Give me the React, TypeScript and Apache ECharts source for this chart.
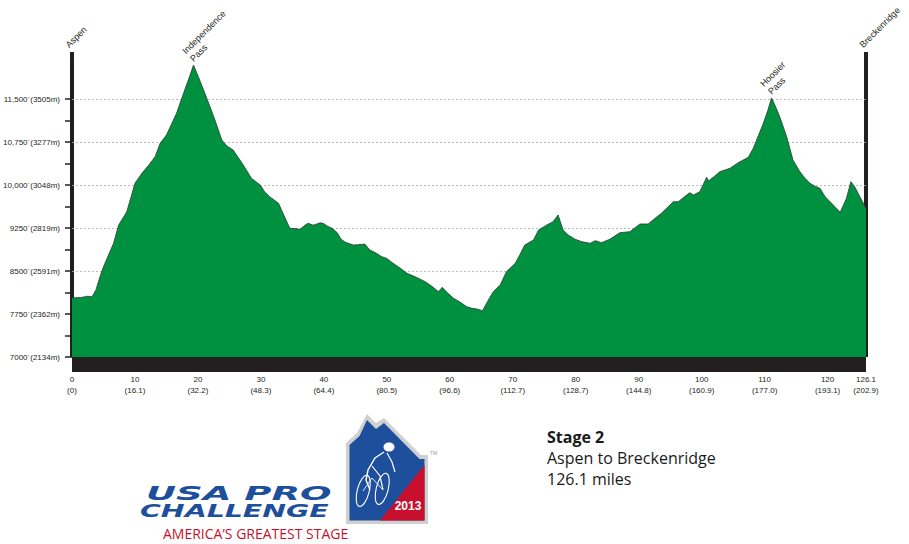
import React, { useEffect, useRef } from 'react';
import * as echarts from 'echarts';

// ---- elevation profile (miles, feet) ----
const mileMarks = [
  0, 1.5, 2.5, 3.2, 3.8, 4.5, 5.0, 5.8, 6.6, 7.4, 8.7, 9.4, 10.0, 11.1, 12.2, 13.2, 14.0, 15.0, 15.8, 16.6,
  17.9, 18.7, 19.3, 20.1, 20.9, 21.8, 22.7, 23.8, 24.6, 25.6, 26.4, 27.2, 28.5, 29.9, 30.6, 31.4, 32.8, 33.7,
  34.6, 35.4, 36.2, 37.0, 37.5, 38.3, 38.9, 39.4, 39.9, 40.6, 41.3, 42.1, 42.7, 43.4, 44.7, 45.5, 46.5, 47.3,
  48.2, 49.2, 50.0, 51.0, 52.0, 53.2, 54.5, 56.1, 57.2, 58.2, 58.8, 59.7, 60.6, 61.6, 62.7, 63.5, 64.3, 65.2,
  66.0, 66.9, 68.0, 69.0, 70.4, 71.2, 71.9, 73.3, 74.1, 75.4, 76.4, 77.2, 78.0, 78.8, 79.9, 81.0, 82.3, 83.1,
  84.1, 85.4, 87.0, 88.6, 90.2, 91.5, 92.5, 93.6, 95.5, 96.3, 97.2, 98.1, 98.7, 99.7, 100.8, 101.1, 102.0,
  102.9, 104.5, 105.8, 107.4, 108.2, 109.0, 109.8, 110.5, 111.1, 111.8, 112.4, 113.5, 114.5, 115.6, 116.4,
  117.2, 118.0, 118.8, 119.6, 120.3, 120.9, 122.0, 123.0, 123.7, 124.3, 125.4, 126.1,
];
const elevFeet = [
  8030, 8040, 8060, 8050, 8170, 8420, 8575, 8780, 8983, 9300, 9535, 9800, 10029, 10204, 10350, 10494, 10727, 10872, 11060, 11250,
  11657, 11900, 12093, 11880, 11657, 11400, 11134, 10785, 10680, 10610, 10480, 10349, 10116, 10000, 9880, 9796, 9680, 9460,
  9245, 9240, 9227, 9300, 9332, 9300, 9320, 9340, 9332, 9280, 9245, 9170, 9060, 9000, 8953, 8960, 8970, 8866,
  8820, 8750, 8720, 8634, 8560, 8460, 8400, 8314, 8230, 8139, 8215, 8110, 8024, 7960, 7878, 7850, 7837, 7808,
  7970, 8139, 8256, 8488, 8634, 8800, 8953, 9041, 9215, 9302, 9360, 9477, 9215, 9128, 9053, 9010, 8983, 9029,
  8994, 9053, 9168, 9186, 9320, 9320, 9410, 9506, 9709, 9709, 9790, 9866, 9826, 9883, 10134, 10070, 10150,
  10233, 10291, 10389, 10483, 10640, 10860, 11076, 11300, 11520, 11350, 11191, 10843, 10436, 10233, 10120,
  10029, 9980, 9942, 9796, 9720, 9651, 9524, 9768, 10058, 9971, 9738, 9593,
];

// ---- axis ticks ----
const xTickMiles = [0, 10, 20, 30, 40, 50, 60, 70, 80, 90, 100, 110, 120, 126.1];
const xTickKm = ['0', '16.1', '32.2', '48.3', '64.4', '80.5', '96.6', '112.7', '128.7', '144.8', '160.9', '177.0', '193.1', '202.9'];
const yTickFeet = [7000, 7750, 8500, 9250, 10000, 10750, 11500];
const yTickFeetText = ['7000', '7750', '8500', '9250', '10,000', '10,750', '11,500'];
const yTickMeters = [2134, 2362, 2591, 2819, 3048, 3277, 3505];
const Y_MIN = 7000;
const Y_MAX = 12320;
const X_MAX = 126.1;

// ---- place names ----
const placeLabels = ['Aspen', 'Independence\nPass', 'Hoosier\nPass', 'Breckenridge'];
const placeMiles = [0, 19.3, 111.1, 126.1];
const placeFeet = [Y_MAX, 12093, 11520, Y_MAX];

const INK = '#231f20';
const AXIS_FONT = '"Liberation Sans", Arial, Helvetica, sans-serif';

function logoGraphics(): any[] {
  const blue = '#1d4f9c';
  const red = '#c8102e';
  return [
    {
      type: 'polygon',
      shape: { points: [[346, 524], [346, 443], [357, 433], [367, 414], [376, 423], [384, 418], [421, 455], [428, 455], [428, 524]] },
      style: { fill: '#d0d0d0' },
    },
    {
      type: 'polygon',
      shape: { points: [[349.5, 520.5], [349.5, 445], [359.5, 436], [367, 420], [376, 429], [384, 423], [419.5, 459], [424.5, 459], [424.5, 520.5]] },
      style: { fill: blue },
    },
    {
      type: 'polygon',
      shape: { points: [[380, 520.5], [424.5, 465], [424.5, 520.5]] },
      style: { fill: red },
    },
    // cyclist (simplified white strokes)
    { type: 'ellipse', shape: { cx: 363, cy: 491, rx: 6, ry: 16 }, rotation: -0.25, originX: 363, originY: 491, style: { fill: 'none', stroke: '#fff', lineWidth: 1.1 } },
    { type: 'ellipse', shape: { cx: 382, cy: 489, rx: 6, ry: 16 }, rotation: -0.25, originX: 382, originY: 489, style: { fill: 'none', stroke: '#fff', lineWidth: 1.1 } },
    { type: 'ellipse', shape: { cx: 389, cy: 447, rx: 5.5, ry: 4.5 }, style: { fill: '#fff' } },
    { type: 'polyline', shape: { points: [[384, 452], [375, 458], [368, 470], [366, 480], [370, 490]] }, style: { stroke: '#fff', lineWidth: 1.4, fill: 'none' } },
    { type: 'polyline', shape: { points: [[387, 453], [392, 462], [395, 472]] }, style: { stroke: '#fff', lineWidth: 1.2, fill: 'none' } },
    { type: 'polyline', shape: { points: [[372, 466], [380, 476], [383, 490]] }, style: { stroke: '#fff', lineWidth: 1.2, fill: 'none' } },
    { type: 'polyline', shape: { points: [[363, 491], [372, 478], [382, 489]] }, style: { stroke: '#fff', lineWidth: 0.9, fill: 'none' } },
    {
      type: 'text', x: 408, y: 506,
      style: { text: '2013', font: 'bold 12px "Liberation Sans", Arial, sans-serif', fill: '#fff', textAlign: 'center', textVerticalAlign: 'middle' },
    },
    {
      type: 'text', x: 430, y: 453,
      style: { text: 'TM', font: '5px "Liberation Sans", Arial, sans-serif', fill: '#999', textAlign: 'left', textVerticalAlign: 'middle' },
    },
    {
      type: 'text', x: 146, y: 493.5, scaleX: 1.95,
      style: { text: 'USA PRO', font: 'italic bold 19px "DejaVu Sans", sans-serif', fill: blue, textAlign: 'left', textVerticalAlign: 'middle' },
    },
    {
      type: 'text', x: 140, y: 511, scaleX: 1.58,
      style: { text: 'CHALLENGE', font: 'italic bold 18px "DejaVu Sans", sans-serif', fill: blue, textAlign: 'left', textVerticalAlign: 'middle' },
    },
    {
      type: 'text', x: 163, y: 533, scaleX: 1.0,
      style: { text: 'AMERICA\u2019S GREATEST STAGE', font: '14px "Open Sans", sans-serif', fill: red, textAlign: 'left', textVerticalAlign: 'middle' },
    },
  ];
}

function stageGraphics(): any[] {
  const base = { textAlign: 'left', textVerticalAlign: 'middle', fill: '#1a1a1a' };
  return [
    { type: 'text', x: 547, y: 437, style: { ...base, text: 'Stage 2', font: 'bold 16px "Open Sans", sans-serif' } },
    { type: 'text', x: 547, y: 458, style: { ...base, text: 'Aspen to Breckenridge', font: '16px "Open Sans", sans-serif' } },
    { type: 'text', x: 547, y: 479, style: { ...base, text: '126.1 miles', font: '16px "Open Sans", sans-serif' } },
  ];
}

export default function App() {
  const ref = useRef<HTMLDivElement>(null);

  useEffect(() => {
    if (!ref.current) return;
    const chart = echarts.init(ref.current, null, { renderer: 'svg' });

    const minorTicks: number[] = [];
    yTickFeet.forEach((v, i) => {
      minorTicks.push(v);
      if (i < yTickFeet.length - 1) minorTicks.push((v + yTickFeet[i + 1]) / 2);
    });

    const option: any = {
      animation: false,
      backgroundColor: '#ffffff',
      grid: { left: 72, right: 43, top: 52, bottom: 187, containLabel: false },
      xAxis: {
        type: 'value',
        min: 0,
        max: X_MAX,
        interval: 10,
        offset: 7.5,
        axisLine: { show: true, onZero: false, lineStyle: { color: INK, width: 15, cap: 'butt' } },
        axisTick: { show: false },
        splitLine: { show: false },
        axisLabel: {
          margin: 9,
          fontSize: 8,
          lineHeight: 11,
          color: INK,
          fontFamily: AXIS_FONT,
          showMinLabel: true,
          showMaxLabel: true,
          formatter: (v: number) => {
            const i = xTickMiles.findIndex((m) => Math.abs(m - v) < 0.01);
            return i < 0 ? '' : `${xTickMiles[i]}\n(${xTickKm[i]})`;
          },
        },
      },
      yAxis: [
        {
          type: 'value',
          min: Y_MIN,
          max: Y_MAX,
          interval: 375,
          position: 'left',
          axisLine: { show: true, onZero: false, lineStyle: { color: INK, width: 4, cap: 'butt' } },
          axisTick: { show: true, length: 7, customValues: minorTicks, lineStyle: { color: INK, width: 1.5 } },
          splitLine: { show: false },
          axisLabel: {
            customValues: yTickFeet,
            margin: 12,
            fontSize: 8,
            color: INK,
            fontFamily: AXIS_FONT,
            formatter: (v: number) => {
              const i = yTickFeet.indexOf(v);
              return i < 0 ? '' : `${yTickFeetText[i]}\u00b4(${yTickMeters[i]}m)`;
            },
          },
        },
        {
          type: 'value',
          min: Y_MIN,
          max: Y_MAX,
          position: 'right',
          axisLine: { show: true, onZero: false, lineStyle: { color: INK, width: 4, cap: 'butt' } },
          axisTick: { show: false },
          axisLabel: { show: false },
          splitLine: { show: false },
        },
      ],
      series: [
        {
          type: 'line',
          data: mileMarks.map((m, i) => [m, elevFeet[i]]),
          symbol: 'none',
          z: 3,
          silent: true,
          lineStyle: { color: '#2b3a2e', width: 0.8 },
          areaStyle: { color: '#009140', opacity: 1 },
          markLine: {
            silent: true,
            symbol: 'none',
            z: 1,
            label: { show: false },
            lineStyle: { color: '#aaaaaa', type: [2, 2], width: 0.8 },
            data: yTickFeet.slice(1).map((v) => ({ yAxis: v })),
          },
        },
      ],
    };
    chart.setOption(option);

    const placeTexts = placeLabels.map((label, i) => {
      const p = chart.convertToPixel({ xAxisIndex: 0, yAxisIndex: 0 }, [placeMiles[i], placeFeet[i]]) as number[];
      const isEnd = placeFeet[i] === Y_MAX;
      return {
        type: 'text',
        x: p[0] + (isEnd ? -1 : 2),
        y: p[1] + (isEnd ? -2 : -1),
        rotation: Math.PI / 4,
        style: {
          text: label,
          font: `9px ${AXIS_FONT}`,
          fill: INK,
          textAlign: 'left',
          textVerticalAlign: 'bottom',
          lineHeight: 11,
        },
      };
    });

    chart.setOption({ graphic: [...placeTexts, ...logoGraphics(), ...stageGraphics()] });

    return () => chart.dispose();
  }, []);

  return <div ref={ref} style={{ position: 'fixed', left: 0, top: 0, width: 909, height: 544 }} />;
}
